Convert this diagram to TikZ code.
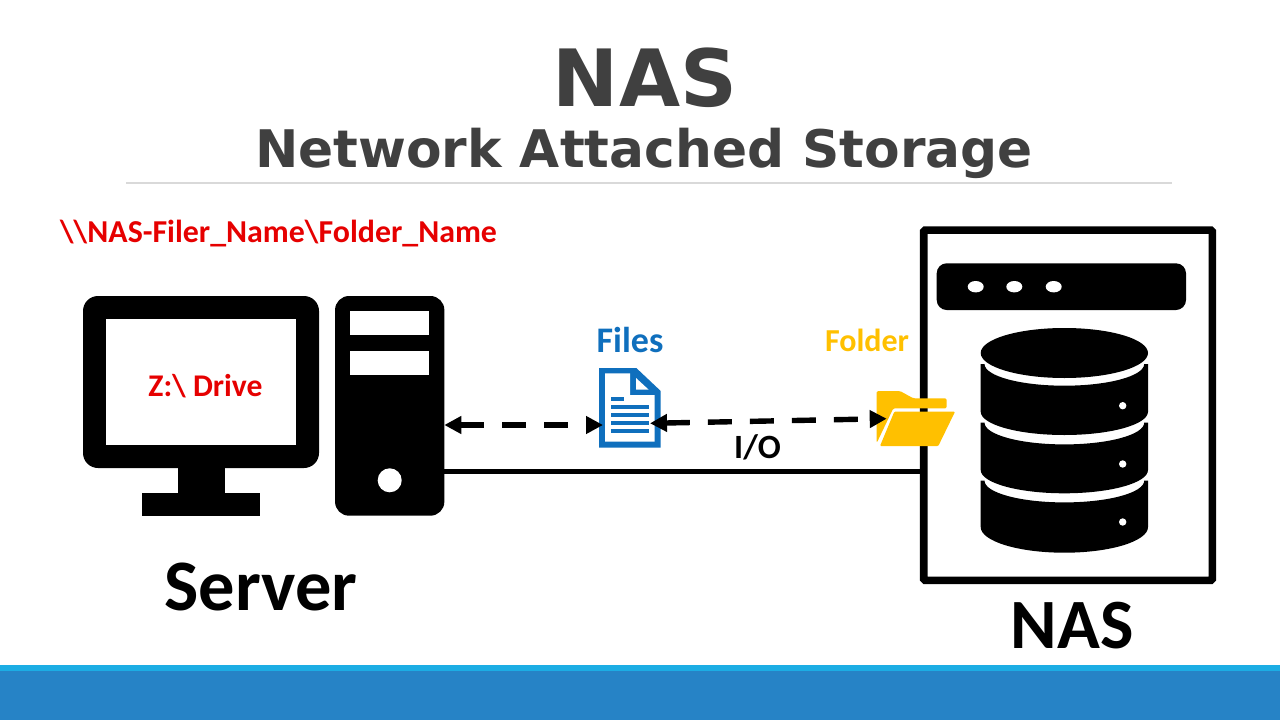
\documentclass[tikz,border=0pt]{standalone}
\usepackage{fontspec}
\setmainfont{Carlito}
\newfontfamily\titlefont{DejaVu Sans}[BoldFont={DejaVu Sans Bold}]
\usetikzlibrary{arrows.meta}
\definecolor{ttl}{HTML}{404040}
\definecolor{fileblue}{HTML}{0F6FBD}
\definecolor{amber}{HTML}{FFC000}
\definecolor{redt}{HTML}{E60000}
\definecolor{footA}{HTML}{1CADE4}
\definecolor{footB}{HTML}{2683C6}
\tikzset{
  lbl/.style={inner sep=0pt,outer sep=0pt,anchor=base},
  blk/.style={fill=black,draw=none},
  dashio/.style={line width=5.4pt,draw=black,dash pattern=on 24pt off 18pt,{Triangle[length=17pt,width=17pt]}-{Triangle[length=17pt,width=17pt]}},
}
\begin{document}
\begin{tikzpicture}[x=1pt,y=-1pt]
\useasboundingbox (0,0) rectangle (1280,720);
\fill[white] (0,0) rectangle (1280,720);
% footer
\fill[footA] (0,665) rectangle (1280,672);
\fill[footB] (0,671) rectangle (1280,720);
% titles
\node[lbl,text=ttl,font=\titlefont\bfseries\fontsize{79}{79}\selectfont] (title) at (645,106) {NAS};
\node[lbl,text=ttl,font=\titlefont\bfseries\fontsize{51.8}{52}\selectfont] (subtitle) at (644,167) {Network Attached Storage};
\draw[draw=black!15,line width=1.3pt] (126,183) -- (1172,183);
\node[lbl,text=redt,font=\bfseries\fontsize{31.9}{32}\selectfont] (path) at (278.5,242) {\textbackslash\textbackslash NAS-Filer\_Name\textbackslash Folder\_Name};
% monitor
\fill[black,rounded corners=15pt] (83,296) rectangle (319,468);
\fill[white] (106.3,319) rectangle (295.7,445);
\fill[black] (177.7,460) rectangle (224.7,493);
\fill[black] (142,492.7) rectangle (260,515.7);
\node[lbl,text=redt,font=\bfseries\fontsize{31.6}{32}\selectfont] (drive) at (205.5,396) {Z:\textbackslash{} Drive};
% tower
\node[blk,rounded corners=14pt,minimum width=109.3pt,minimum height=219.7pt,inner sep=0pt,outer sep=0pt] (tower) at (389.7,405.85) {};
\fill[white] (350.3,311.3) rectangle (429.3,335.3);
\fill[white] (350.3,350.7) rectangle (429.3,374.7);
\fill[white] (389.7,480.3) circle[radius=12];
\node[lbl,text=black,font=\bfseries\fontsize{72.5}{73}\selectfont] (server) at (261,610) {Server};
% NAS box
\node[draw=black,line width=7.6pt,fill=white,rounded corners=1.5pt,minimum width=288.6pt,minimum height=350.3pt,inner sep=0pt,outer sep=0pt] (nasbox) at (1068,405.2) {};
\fill[black,rounded corners=10pt] (936.7,263.3) rectangle (1186,310);
\foreach \px in {975.7,1014.3,1053.7}
  \fill[white] (\px,286.7) ellipse[x radius=8,y radius=5.7];
% database
\foreach \ya/\yb/\rb in {364/411.7/23.3, 422.7/470/23.3, 480.7/527/25.7}
  \fill[black] (980.7,\ya) -- (984.5,\ya) arc[start angle=180,end angle=0,x radius=79.85,y radius=21.7] -- (1148,\ya) -- (1148,\yb) arc[start angle=0,end angle=180,x radius=83.65,y radius=\rb] -- cycle;
\fill[black] (1064.35,353) ellipse[x radius=83.65,y radius=25];
\foreach \cy in {405.7,464,522}
  \fill[white] (1122.7,\cy) circle[radius=3.7];
\node[lbl,text=black,font=\bfseries\fontsize{70.7}{71}\selectfont] (naslabel) at (1072,648) {NAS};
% solid link
\draw[line width=5pt,black] (tower.east |- 0,471.7) -- (nasbox.west |- 0,471.7);
% file icon
\node[inner sep=0pt,outer sep=0pt,minimum width=61.7pt,minimum height=79.7pt] (file) at (629.85,407.85) {};
\fill[fileblue] (599,368) -- (636.3,368) -- (660.7,391) -- (660.7,447.7) -- (599,447.7) -- cycle;
\fill[white] (605,373.3) -- (630,373.3) -- (630,395) -- (654.7,395) -- (654.7,441.7) -- (605,441.7) -- cycle;
\fill[white] (636,378) -- (648.5,389.5) -- (636,389.5) -- cycle;
\fill[fileblue] (611,396.9) rectangle (624,400.6);
\foreach \ly in {406.7,414.7,422.7,430.7}
  \fill[fileblue] (611,\ly-1.85) rectangle (649.3,\ly+1.85);
\node[lbl,text=fileblue,font=\bfseries\fontsize{36}{36}\selectfont] (fileslabel) at (630,352) {Files};
% folder icon
\node[inner sep=0pt,outer sep=0pt,minimum width=78pt,minimum height=55pt] (folder) at (916,418.5) {};
\fill[amber,rounded corners=1.5pt] (876.7,391) -- (900,391) -- (913.3,398.3) -- (946.7,398.3) -- (946.7,408.3) -- (893.3,408.3) -- (876.7,443) -- cycle;
\fill[amber,rounded corners=1pt] (894.3,411.7) -- (955,411.7) -- (938.3,446) -- (880,446) -- cycle;
\node[lbl,text=amber,font=\bfseries\fontsize{32}{32}\selectfont] (folderlabel) at (867,351) {Folder};
% connectors
\coordinate (srvend) at (444.3,425);
\coordinate (fileL) at (603,425);
\coordinate (fileR) at (650,423.3);
\coordinate (folderL) at (886.7,418.7);
\draw[dashio] (srvend) -- (fileL);
\draw[dashio] (fileR) -- (folderL);
\node[lbl,text=black,font=\bfseries\fontsize{34}{34}\selectfont] (io) at (757.5,458) {I/O};
\end{tikzpicture}
\end{document}
